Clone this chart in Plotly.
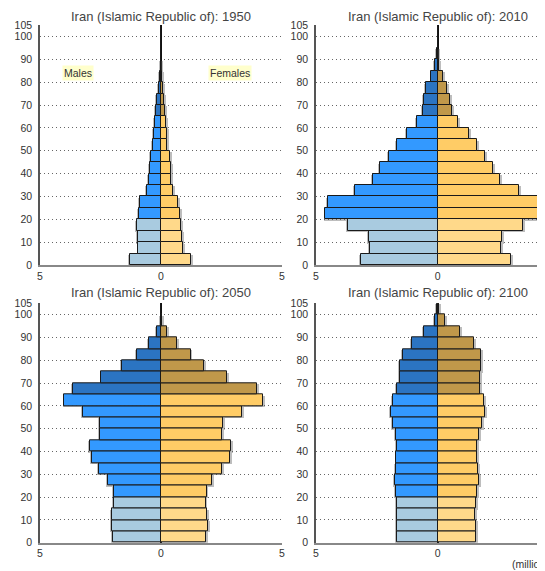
import plotly.graph_objects as go

# ---------------- data (millions) ----------------
age_groups = ["0-4", "5-9", "10-14", "15-19", "20-24", "25-29", "30-34", "35-39",
              "40-44", "45-49", "50-54", "55-59", "60-64", "65-69", "70-74",
              "75-79", "80-84", "85-89", "90-94", "95-99", "100+"]
age_start = [0, 5, 10, 15, 20, 25, 30, 35, 40, 45, 50, 55, 60, 65, 70, 75, 80, 85, 90, 95, 100]

years = ["1950", "2010", "2050", "2100"]

males_1950 = [1.29, 0.93, 0.94, 1.00, 0.91, 0.86, 0.57, 0.50, 0.44, 0.40, 0.32, 0.28,
              0.26, 0.19, 0.17, 0.10, 0.04, 0.01, 0.0, 0.0, 0.0]
females_1950 = [1.26, 0.91, 0.87, 0.84, 0.77, 0.71, 0.50, 0.43, 0.43, 0.36, 0.26, 0.25,
                0.22, 0.18, 0.11, 0.08, 0.04, 0.01, 0.0, 0.0, 0.0]

males_2010 = [3.14, 2.77, 2.83, 3.68, 4.61, 4.49, 3.39, 2.66, 2.35, 1.99, 1.65, 1.27,
              0.83, 0.61, 0.54, 0.47, 0.25, 0.11, 0.02, 0.0, 0.0]
females_2010 = [3.02, 2.63, 2.66, 3.50, 4.55, 4.45, 3.37, 2.56, 2.29, 1.95, 1.62, 1.29,
                0.84, 0.60, 0.50, 0.39, 0.22, 0.08, 0.02, 0.0, 0.0]

males_2050 = [1.99, 2.04, 2.04, 1.93, 1.93, 2.20, 2.57, 2.87, 2.93, 2.51, 2.51, 3.23,
              3.99, 3.62, 2.46, 1.60, 1.01, 0.48, 0.17, 0.02, 0.0]
females_2050 = [1.86, 1.95, 1.91, 1.84, 1.88, 2.12, 2.54, 2.86, 2.91, 2.54, 2.57, 3.35,
                4.21, 3.96, 2.73, 1.77, 1.22, 0.66, 0.25, 0.03, 0.0]

males_2100 = [1.65, 1.66, 1.66, 1.65, 1.70, 1.75, 1.72, 1.69, 1.65, 1.72, 1.83, 1.90,
              1.83, 1.66, 1.54, 1.54, 1.44, 1.05, 0.54, 0.12, 0.02]
females_2100 = [1.58, 1.58, 1.54, 1.58, 1.63, 1.70, 1.66, 1.62, 1.62, 1.70, 1.83, 1.94,
                1.91, 1.75, 1.73, 1.77, 1.79, 1.50, 0.93, 0.32, 0.06]

male_data = [males_1950, males_2010, males_2050, males_2100]
female_data = [females_1950, females_2010, females_2050, females_2100]

title_prefix = "Iran (Islamic Republic of): "
x_tick_vals = [-5, 0, 5]
x_tick_text = ["5", "0", "5"]
y_tick_vals = [0, 10, 20, 30, 40, 50, 60, 70, 80, 90, 100, 105]

# ---------------- styling ----------------
PAGE_OFFSET = 8  # default body margin of the page
W, H = 545 - PAGE_OFFSET, 571 - PAGE_OFFSET
MALE_COLORS = ("#a9cbe0", "#3399ff", "#2b74c2")
FEMALE_COLORS = ("#ffd98a", "#ffcc66", "#c0984a")
FONT = "Liberation Sans, Arial, sans-serif"


def band_color(a, palette):
    if a < 20:
        return palette[0]
    if a < 65:
        return palette[1]
    return palette[2]


def fx(px):
    return (px - PAGE_OFFSET) / W


def fy(py):
    return 1 - (py - PAGE_OFFSET) / H


# panel geometry in page pixels
panels = [
    dict(x0=40, x1=282, xr=[-5, 5], y0=265, y1=25, title_x=161, title_top=8),
    dict(x0=316, x1=545, xr=[-5, 4.42], y0=265, y1=25, title_x=438, title_top=8),
    dict(x0=40, x1=282, xr=[-5, 5], y0=542.7, y1=303.3, title_x=161, title_top=284),
    dict(x0=316, x1=545, xr=[-5, 4.42], y0=542.7, y1=303.3, title_x=438, title_top=284),
]

fig = go.Figure()
centers = [a + 2.5 for a in age_start]

layout_axes = {}
annotations = []

for i, p in enumerate(panels):
    n = "" if i == 0 else str(i + 1)
    xa, ya = "x" + n, "y" + n
    males = male_data[i]
    females = female_data[i]
    # shadows
    for vals, sign in ((males, -1), (females, 1)):
        fig.add_trace(go.Bar(
            x=[sign * (v + 0.08) if v > 0 else 0 for v in vals], y=centers,
            orientation="h", width=5, offset=-3.1,
            marker=dict(color="rgba(90,90,90,0.4)", line=dict(width=0)),
            xaxis=xa, yaxis=ya, hoverinfo="skip", showlegend=False))
    fig.add_trace(go.Bar(
        x=[-v for v in males], y=centers, orientation="h", width=5,
        marker=dict(color=[band_color(a, MALE_COLORS) for a in age_start],
                    line=dict(color="#1a1a1a", width=1)),
        xaxis=xa, yaxis=ya, showlegend=False, name="Males",
        customdata=age_groups))
    fig.add_trace(go.Bar(
        x=females, y=centers, orientation="h", width=5,
        marker=dict(color=[band_color(a, FEMALE_COLORS) for a in age_start],
                    line=dict(color="#1a1a1a", width=1)),
        xaxis=xa, yaxis=ya, showlegend=False, name="Females",
        customdata=age_groups))

    layout_axes["xaxis" + n] = dict(
        domain=[fx(p["x0"]), min(fx(p["x1"]), 1.0)], range=p["xr"], anchor=ya,
        tickvals=x_tick_vals, ticktext=x_tick_text, ticks="", automargin=False,
        showgrid=True, gridcolor="#666", griddash="1px,3px", gridwidth=1,
        zeroline=True, zerolinecolor="#111", zerolinewidth=2,
        showline=True, linecolor="#888", linewidth=2,
        tickfont=dict(size=10.5, color="#333", family=FONT), fixedrange=True)
    layout_axes["yaxis" + n] = dict(
        domain=[fy(p["y0"]), fy(p["y1"])], range=[0, 105], anchor=xa,
        tickvals=y_tick_vals, ticks="", ticklabelstandoff=4, automargin=False,
        showgrid=True, gridcolor="#666", griddash="1px,3px", gridwidth=1,
        zeroline=False, showline=True, linecolor="#555", linewidth=1.5,
        tickfont=dict(size=10.5, color="#333", family=FONT), fixedrange=True)

    annotations.append(dict(
        text=title_prefix + years[i], x=fx(p["title_x"]), y=min(fy(p["title_top"]), 1.0),
        xref="paper", yref="paper", xanchor="center", yanchor="top", borderpad=0,
        showarrow=False, font=dict(size=13, color="#444", family=FONT)))

annotations.append(dict(text="Males", x=fx(78), y=fy(73), xref="paper", yref="paper",
                        showarrow=False, xanchor="center", yanchor="middle",
                        bgcolor="#ffffcc", borderpad=1,
                        font=dict(size=10.5, color="#333", family=FONT)))
annotations.append(dict(text="Females", x=fx(230), y=fy(73), xref="paper", yref="paper",
                        showarrow=False, xanchor="center", yanchor="middle",
                        bgcolor="#ffffcc", borderpad=1,
                        font=dict(size=10.5, color="#333", family=FONT)))
annotations.append(dict(text="(millions)", x=fx(510), y=fy(564), xref="paper", yref="paper",
                        showarrow=False, xanchor="left", yanchor="middle",
                        font=dict(size=10.5, color="#333", family=FONT)))

fig.update_layout(
    width=W, height=H, margin=dict(l=0, r=0, t=0, b=0),
    paper_bgcolor="white", plot_bgcolor="white",
    barmode="overlay", bargap=0,
    annotations=annotations,
    font=dict(family=FONT),
    **layout_axes)

fig.write_html("out.html")
